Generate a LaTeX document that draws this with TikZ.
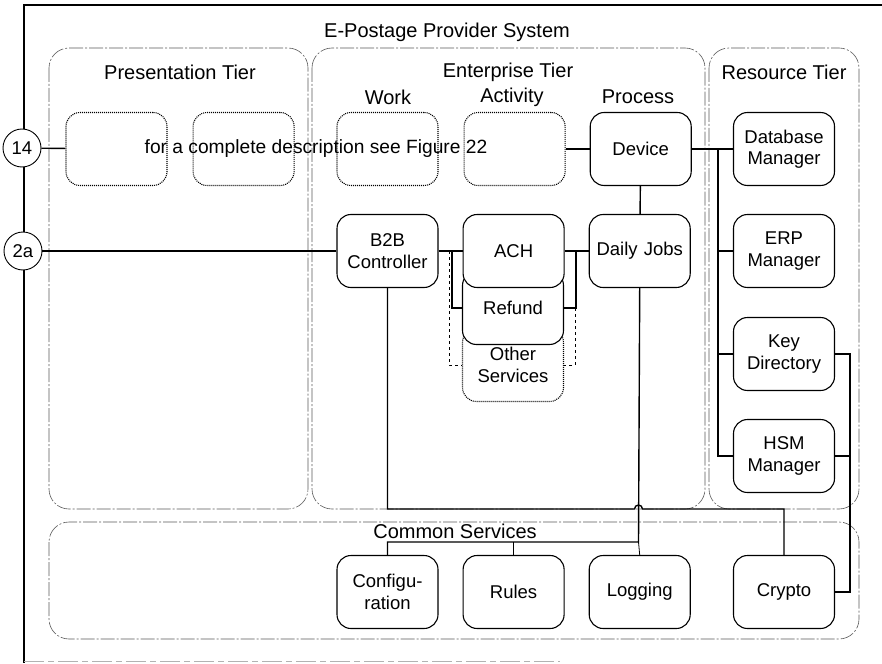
\documentclass[tikz,border=0pt]{standalone}
\usepackage{fontspec}
\setmainfont{Liberation Sans}
\usepackage{tikz}
\usetikzlibrary{calc, positioning}
\newcommand{\blockfont}{\fontsize{18.5}{21.5}\selectfont}
\newcommand{\tierfont}{\fontsize{20}{24}\selectfont}
\tikzstyle{block} = [rectangle, rounded corners=14pt, line width=1.1pt, draw=black, fill=white, minimum width=101pt, minimum height=73pt, text width=95pt, inner sep=3pt, align=center, font=\blockfont]
\tikzstyle{ghost} = [block, fill=none, dash pattern=on 1pt off 1pt]
\tikzstyle{tier} = [draw=black!65, line width=0.6pt, dash pattern=on 14pt off 2pt on 2pt off 2pt, rounded corners=20pt]
\tikzstyle{caption} = [font=\tierfont, inner sep=0pt]
\tikzstyle{port} = [circle, draw=black, line width=0.9pt, fill=white, minimum size=38pt, inner sep=0pt, font=\blockfont]
\tikzstyle{link} = [line width=1.4pt]

\begin{document}
\begin{tikzpicture}[x=1pt, y=-1pt, node distance = 25pt]
		\useasboundingbox (0,0) rectangle (882,663);
		% frame and tiers
		\draw [line width=1.5pt] (882,5) -- (24,5) -- (24,663);
		\draw [black!30, line width=0.5pt, dash pattern=on 20pt off 4pt on 6pt off 4pt] (24,661) -- (560,661);
		\draw [tier] (49,48) rectangle (308,509);
		\draw [tier] (312,48) rectangle (705,509);
		\draw [tier] (709,48) rectangle (859,509);
		\draw [tier] (49,522) rectangle (859,639);
		
		\node (System) [caption] at (447,32) {E-Postage Provider System};
		\node (PresTier) [caption] at (180,72) {Presentation Tier};
		\node (EntTier) [caption] at (508,72) {Enterprise Tier};
		\node (ResTier) [caption] at (784,72) {Resource Tier};
		\node (CommonTier) [caption] at (455,531) {Common Services};
		\node (WorkLabel) [caption] at (388,97) {Work};
		\node (ActivityLabel) [caption] at (512,97) {Activity};
		\node (ProcessLabel) [caption] at (638,97) {Process};
		
		% top row
		\node (PresA) [ghost] at (116.5,149) {};
		\node (PresB) [ghost, right = 25pt of PresA] {};
		\node (Work) [ghost] at (387.5,149) {};
		\node (Activity) [ghost, right = 25pt of Work] {};
		\node (Device) [block, right = 24pt of Activity] {Device};
		\node (DbMgr) [block] at (784,149) {Database\\Manager};
		\node (SeeFig) [font=\fontsize{19.2}{22}\selectfont] at (316,149) {for a complete description see Figure 22};
		
		% second row
		\node (B2B) [block] at (387.5,251) {B2B\\Controller};
		\node (Other) [ghost] at (513,365) {\raisebox{4pt}{\parbox{95pt}{\centering Other\\Services}}};
		\node (Refund) [block] at (513,308) {Refund};
		\node (ACH) [block, right = 24pt of B2B] {ACH};
		\node (DailyJobs) [block, right = 24pt of ACH] {Daily Jobs};
		
		% resource column
		\node (ERP) [block] at (784,251) {ERP\\Manager};
		\node (KeyDir) [block] at (784,354) {Key\\Directory};
		\node (HSM) [block] at (784,456) {HSM\\Manager};
		
		% common services
		\node (Config) [block] at (387.5,592) {Configu-\\ration};
		\node (Rules) [block, right = 24pt of Config] {Rules};
		\node (Logging) [block, right = 24pt of Rules] {Logging};
		\node (Crypto) [block] at (784,592) {Crypto};
		
		\node (PortA) [port] at (22,148) {14};
		\node (PortB) [port] at (23,251) {2a};
		
		\coordinate (Trunk) at (718,149);
		\coordinate (CryptoBus) at (850,354);
		\coordinate (Hop) at (638.5,509);
		\coordinate (Bus) at (638.5,542);
		
		\draw [link] (PortA) -- (PresA);
		\draw [link] (Activity) -- (Device);
		\draw [link] (Device) -- (DbMgr);
		\draw [link] (Device) -- (DailyJobs);
		\draw [link] (PortB) -- (B2B);
		\draw [link] (B2B) -- (ACH);
		\draw [link] (ACH) -- (DailyJobs);
		\draw [link] (452,251) |- (Refund.west);
		\draw [link, dashed, line width=1pt] (449,251) |- (Other.west);
		\draw [link] (576,251) |- (Refund.east);
		\draw [link, dashed, line width=1pt] (575,308) |- (Other.east);
		
		\draw [link] (Trunk) |- (HSM.west);
		\draw [link] (Trunk |- ERP) -- (ERP.west);
		\draw [link] (Trunk |- KeyDir) -- (KeyDir.west);
		\draw [link] (KeyDir.east) -- (CryptoBus) |- (Crypto.east);
		\draw [link] (HSM.east) -- (HSM.east -| CryptoBus);
		
		\draw [link] (B2B.south) |- ($(Hop)+(-4,0)$) arc (180:360:4) -| (Crypto.north);
		\draw [link] (DailyJobs.south) -- (Bus) -| (Config.north);
		\draw [link] (Rules.north) -- (Rules.north |- Bus);
		\draw [line width=0.8pt] (Bus) -- (Logging.north);
\end{tikzpicture}
\end{document}
